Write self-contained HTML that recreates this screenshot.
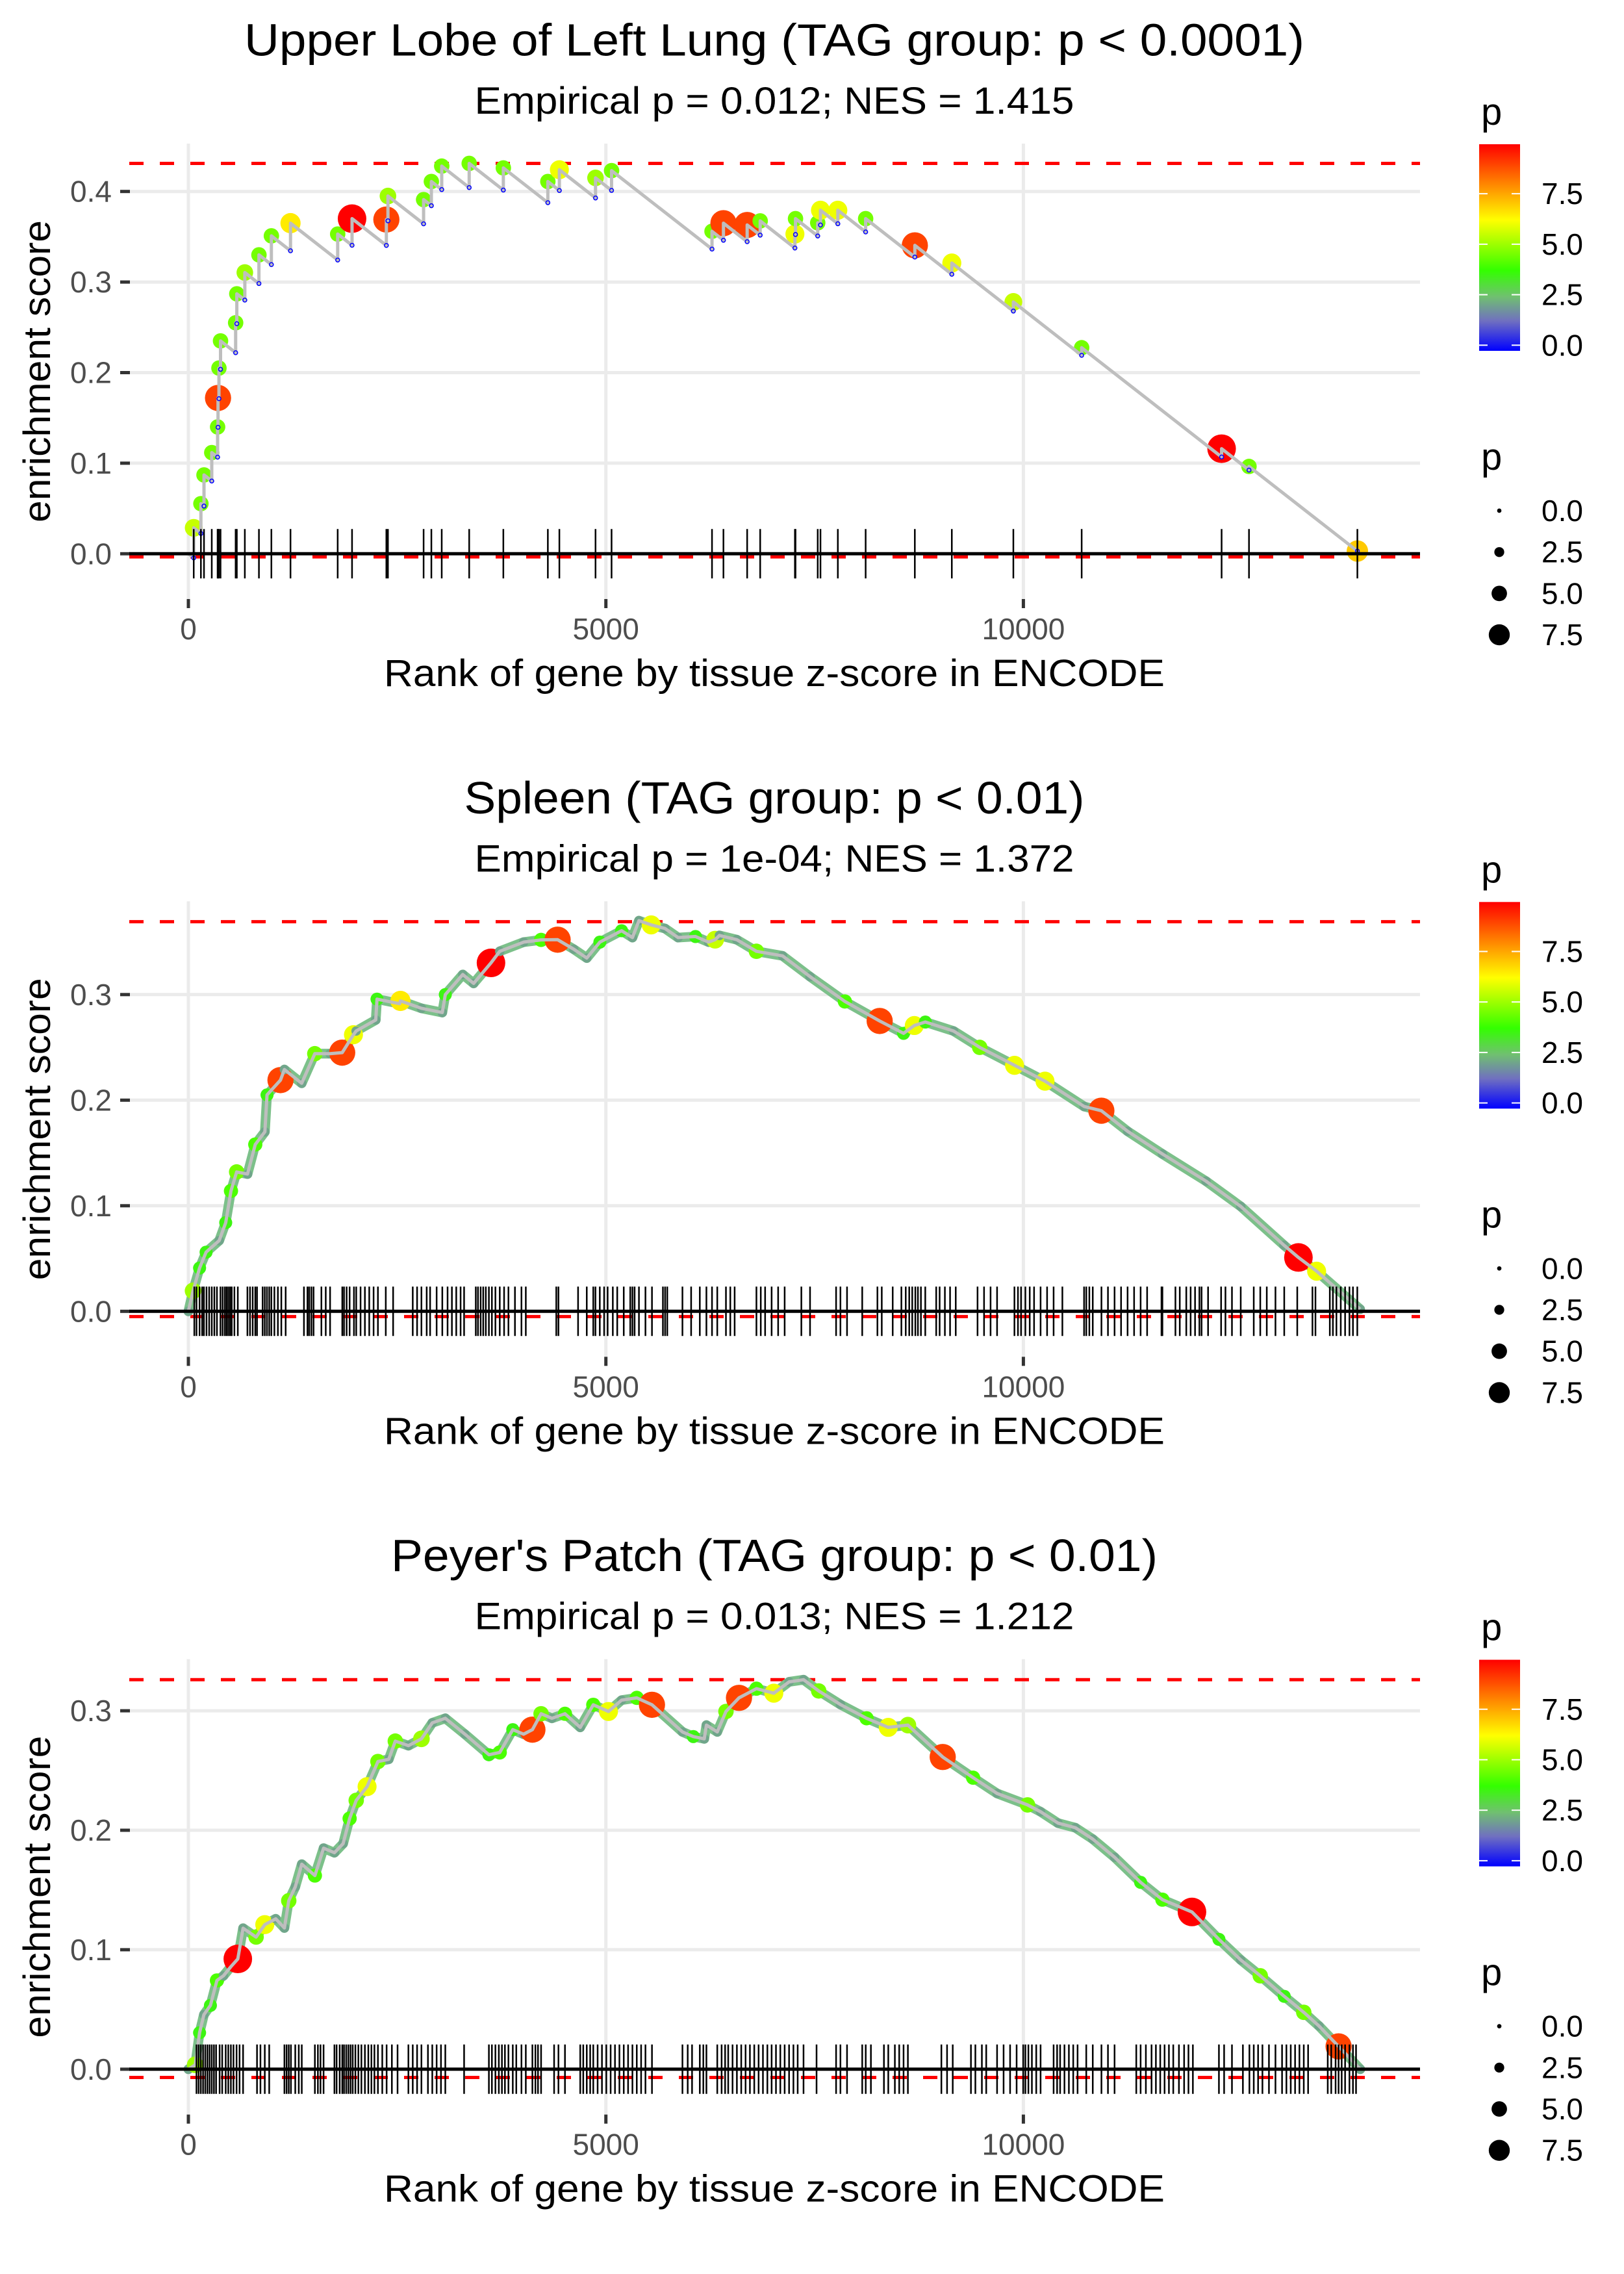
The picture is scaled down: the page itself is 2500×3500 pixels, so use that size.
<!DOCTYPE html>
<html><head><meta charset="utf-8"><title>GSEA enrichment plots</title>
<style>
html,body{margin:0;padding:0;background:#fff;}
svg{display:block;font-family:"Liberation Sans",Arial,sans-serif;}
</style></head>
<body>
<svg id="fig" width="2500" height="3500" viewBox="0 0 2500 3500" xmlns="http://www.w3.org/2000/svg">
<defs>
<linearGradient id="pgrad" x1="0" y1="1" x2="0" y2="0">
<stop offset="0" stop-color="#0000ff"/>
<stop offset="0.145" stop-color="#7070c0"/>
<stop offset="0.262" stop-color="#70c070"/>
<stop offset="0.389" stop-color="#33ff00"/>
<stop offset="0.633" stop-color="#ffff00"/>
<stop offset="1" stop-color="#ff0000"/>
</linearGradient>
</defs>
</svg>
<script>
// ---------- Panel 1: Upper Lobe of Left Lung ----------
const ranks1 = [64,150,187,280,350,355,366,385,566,580,676,845,994,1223,1788,1960,2371,2390,2817,2910,3034,3363,3772,4305,4443,4876,5068,6271,6408,6692,6848,7264,7271,7537,7570,7778,8111,8700,9143,9880,10698,12374,12702,14000];
const es1 = [.0286,.0553,.087,.1117,.140,.172,.205,.235,.255,.287,.3105,.330,.351,.365,.353,.370,.369,.395,.391,.411,.428,.431,.426,.411,.424,.415,.423,.356,.365,.363,.3675,.353,.370,.3654,.3793,.3793,.370,.3405,.321,.278,.2275,.116,.0964,.003];
const p1 = [5.5,4.5,4.5,4.5,4.5,9,4.5,4.5,4.5,4.5,5,4.5,4.5,6.5,4.5,10,9,5,4.5,4.5,4.5,4.5,4.5,4.5,6,5,4.5,4.5,9,9,4.5,6,4.5,4.5,6,6,4.5,9,6,5.5,4.5,10,4.5,7];
const rug1 = ranks1;
// ---------- Panel 2: Spleen ----------
const ranks2 = [0,56,134,212,369,447,510,578,708,801,916,942,1103,1150,1357,1514,1696,1842,1977,2009,2244,2259,2530,2540,2791,3041,3077,3286,3416,3624,3729,4016,4224,4422,4615,4771,4928,5188,5318,5396,5543,5708,5865,6073,6230,6308,6360,6568,6803,7115,7445,7862,8279,8565,8694,8826,9164,9477,9894,10259,10728,10934,11249,11666,12187,12604,13121,13294,13512,14033];
const es2 = [0,.0194,.041,.056,.067,.084,.114,.132,.130,.158,.170,.205,.219,.229,.216,.244,.244,.245,.262,.2655,.276,.2957,.2914,.294,.287,.283,.300,.319,.3106,.330,.341,.3497,.3518,.352,.343,.3346,.3497,.3605,.354,.370,.366,.3626,.354,.355,.3497,.352,.356,.352,.341,.3367,.317,.2935,.275,.2633,.2707,.274,.2655,.250,.233,.218,.194,.190,.1705,.149,.1233,.0993,.0626,.051,.038,.002];
const p2 = [2,5,3.5,3.5,2,3.5,4,4.5,2,4,2,3.5,9,2,2,4.5,2,9,6,2,2,3.5,2,6.5,2,2,3.5,2,2,10,2,2,4,9,2,2,3.5,3.5,2,2,6,2,2,3.5,2,5.5,2,2,4.5,2,2,4,9,3.5,6,3.5,2,4.5,6,6,2,9,2,2,2,2,2,10,6,2];
const rug2 = [71,97,134,165,186,217,249,280,311,342,384,410,436,457,478,499,519,551,592,707,738,770,801,822,889,915,941,968,994,1030,1072,1113,1165,1384,1426,1447,1473,1499,1593,1645,1697,1843,1864,1895,1931,1983,2010,2062,2114,2166,2218,2270,2364,2452,2687,2739,2791,2854,2895,2973,3041,3104,3156,3208,3260,3302,3442,3468,3500,3531,3562,3599,3635,3677,3729,3781,3833,3911,3989,4041,4406,4432,4667,4771,4849,4875,4927,4979,5021,5083,5136,5214,5292,5318,5344,5396,5474,5552,5683,5709,5735,5917,6021,6125,6204,6271,6334,6438,6490,6542,6803,6855,6907,6985,7063,7141,7341,7445,7757,7809,7888,8070,8252,8304,8435,8539,8591,8633,8669,8706,8737,8773,8825,8956,8997,9060,9122,9190,9451,9529,9607,9685,9893,9935,9972,10024,10076,10128,10206,10284,10362,10467,10727,10753,10790,10831,10935,11013,11092,11170,11248,11326,11404,11482,11654,11665,11821,11873,11951,12003,12056,12108,12134,12212,12368,12420,12498,12603,12759,12837,12915,13019,13124,13280,13462,13498,13670,13707,13749,13801,13853,13905,13947,13999];
// ---------- Panel 3: Peyer's Patch ----------
const ranks3 = [0,82,134,186,264,342,420,509,592,655,811,915,1046,1150,1202,1280,1358,1515,1619,1749,1853,1931,2010,2140,2270,2400,2478,2635,2791,2921,3077,3312,3599,3729,3885,4015,4120,4224,4354,4510,4693,4849,5031,5188,5370,5552,5917,6047,6178,6204,6334,6438,6594,6803,7011,7194,7367,7549,7809,8122,8382,8617,9034,9398,9685,10050,10206,10414,10623,10831,11092,11404,11665,12019,12342,12603,12837,13124,13358,13540,13775,14035];
const es3 = [0,.0037,.0305,.0457,.0534,.0743,.0782,.0858,.0923,.118,.1106,.121,.1259,.1182,.141,.1526,.1716,.1621,.185,.1812,.1888,.2098,.225,.2365,.2575,.2594,.2746,.2708,.2765,.2899,.2937,.2804,.2632,.2651,.2842,.2804,.2842,.2975,.2937,.2975,.2861,.305,.2994,.3089,.3108,.305,.2823,.2784,.2765,.288,.2823,.2994,.3108,.3185,.3147,.3242,.326,.3166,.3052,.2937,.2861,.288,.2613,.244,.2308,.2212,.2155,.206,.2021,.1926,.1774,.1564,.1419,.1316,.1087,.0915,.0782,.061,.0476,.0362,.0191,0];
const p3 = [2,5,3.5,2,3.5,4,2,2,10,2,4.5,6,2,2,4.5,2,2,4,2,2,2,4,4.5,6,4.5,2,4.5,2,5,2,2,2,3.5,4,3.5,2,9,4.5,2,4,2,4,6,2,4,9,2,3.5,2,2,2,4.5,9,4,6,2,2,4.5,2,4,6,5,9,4,2,4.5,2,2,2,2,2,3.5,4,10,3.5,2,4.5,3.5,4.5,2,9,2];
const rug3 = [97,123,149,176,202,228,254,280,306,332,374,405,447,478,509,540,577,613,655,822,863,915,968,1150,1176,1202,1228,1280,1322,1358,1515,1551,1582,1619,1749,1775,1812,1843,1864,1890,1916,1942,1968,2000,2036,2072,2114,2155,2192,2228,2270,2322,2374,2437,2505,2635,2687,2739,2791,2869,2921,2973,3025,3077,3302,3599,3635,3677,3718,3755,3791,3833,3885,3927,3989,4041,4120,4156,4187,4224,4380,4432,4510,4693,4729,4771,4812,4849,4901,4953,5005,5057,5109,5162,5214,5266,5318,5370,5422,5474,5552,5917,5980,6032,6125,6167,6204,6334,6386,6428,6465,6517,6569,6621,6673,6725,6777,6829,6881,6934,6985,7037,7089,7141,7194,7246,7297,7367,7523,7757,7809,7888,8070,8112,8174,8330,8382,8461,8513,8565,8617,9018,9086,9154,9372,9425,9503,9555,9685,9763,9841,9919,9998,10024,10060,10102,10154,10206,10362,10404,10440,10492,10545,10597,10649,10753,10831,10935,11013,11092,11352,11404,11467,11535,11587,11639,11691,11743,11795,11863,11925,11977,12030,12342,12404,12498,12629,12707,12759,12811,12863,12941,13019,13098,13150,13202,13254,13306,13358,13410,13645,13687,13739,13775,13812,13853,13905,13947,13984];

const titles = ["Upper Lobe of Left Lung (TAG group: p < 0.0001)","Spleen (TAG group: p < 0.01)","Peyer's Patch (TAG group: p < 0.01)"];
const titleWidths = [1632,955,1180];
const subtitles = ["Empirical p = 0.012; NES = 1.415","Empirical p = 1e-04; NES = 1.372","Empirical p = 0.013; NES = 1.212"];
const esMax = [0.431,0.369,0.326];
const esMin = [-0.0035,-0.005,-0.0069];
const yTicks = [[0,0.1,0.2,0.3,0.4],[0,0.1,0.2,0.3],[0,0.1,0.2,0.3]];
const xTicks = [0,5000,10000];
const legendColorTicks = [0,2.5,5,7.5];
const legendSizeTicks = [0,2.5,5,7.5];

const NS = "http://www.w3.org/2000/svg";
const svg = document.getElementById('fig');
function el(tag, attrs, parent){ const e=document.createElementNS(NS,tag); for(const k in attrs) e.setAttribute(k,attrs[k]); (parent||svg).appendChild(e); return e; }

const stops=[[0,[0,0,255]],[1.2,[112,112,192]],[2.4,[112,192,112]],[3.7,[51,255,0]],[6.2,[255,255,0]],[10,[255,0,0]]];
function pColor(p){
  p=Math.max(0,Math.min(10,p));
  for(let i=0;i<stops.length-1;i++){
    const a=stops[i],b=stops[i+1];
    if(p<=b[0]){const t=(p-a[0])/(b[0]-a[0]);const c=a[1].map((v,j)=>Math.round(v+(b[1][j]-v)*t));return `rgb(${c[0]},${c[1]},${c[2]})`;}
  }
  return 'rgb(255,0,0)';
}
function pRadius(p){ return 3.6+1.84*p; }

const PANEL_STEP = 1166.3;
const X0 = 290, XS = 0.12854;
const L = 199, R = 2186;
const Y0base = [852.3, 2018.3, 3184.8];
const YS = [1394, 1625, 1839];
const allRanks=[ranks1,ranks2,ranks3], allEs=[es1,es2,es3], allP=[p1,p2,p3], allRug=[rug1,rug2,rug3];

for(let k=0;k<3;k++){
  const off = k*PANEL_STEP;
  const y0 = Y0base[k], ys = YS[k];
  const xScale = r => X0 + r*XS;
  const yScale = v => y0 - v*ys;
  const top = 221+off, bot = 922+off;
  const g = el('g',{});
  
  

  const t = el('text',{x:1192,y:85.6+off,'text-anchor':'middle','font-size':70,fill:'#000',textLength:titleWidths[k],lengthAdjust:'spacingAndGlyphs'},g);
  t.textContent = titles[k];
  
  
  const st = el('text',{x:1192,y:175+off,'text-anchor':'middle','font-size':58,fill:'#000',textLength:923,lengthAdjust:'spacingAndGlyphs'},g);
  st.textContent = subtitles[k];
  
  

  yTicks[k].forEach(v=>{
    const gl=el('line',{x1:L,x2:R,y1:yScale(v),y2:yScale(v),stroke:'#ebebeb','stroke-width':5},g);
    
    
  });
  xTicks.forEach(r=>{
    const gl=el('line',{x1:xScale(r),x2:xScale(r),y1:top,y2:bot,stroke:'#ebebeb','stroke-width':5},g);
    
    
  });
  yTicks[k].forEach(v=>{
    const tm=el('line',{x1:185,x2:200,y1:yScale(v),y2:yScale(v),stroke:'#333','stroke-width':5},g);
    
    
    const tl=el('text',{x:172,y:yScale(v)+16,'text-anchor':'end','font-size':46,fill:'#4d4d4d'},g);
    tl.textContent=v.toFixed(1);
    
    
  });
  xTicks.forEach(r=>{
    const tm=el('line',{x1:xScale(r),x2:xScale(r),y1:bot,y2:bot+14,stroke:'#333','stroke-width':5},g);
    
    
    const tl=el('text',{x:xScale(r),y:984+off,'text-anchor':'middle','font-size':46,fill:'#4d4d4d'},g);
    tl.textContent=String(r);
    
    
  });
  const xt=el('text',{x:1192,y:1056+off,'text-anchor':'middle','font-size':58,fill:'#000',textLength:1202,lengthAdjust:'spacingAndGlyphs'},g);
  xt.textContent='Rank of gene by tissue z-score in ENCODE';
  
  
  const cy=(top+bot)/2;
  const yt=el('text',{x:77,y:cy,'text-anchor':'middle','font-size':58,fill:'#000',transform:`rotate(-90 77 ${cy})`,textLength:465,lengthAdjust:'spacingAndGlyphs'},g);
  yt.textContent='enrichment score';
  
  

  [esMax[k],esMin[k]].forEach((v,i)=>{
    const dl=el('line',{x1:L,x2:R,y1:yScale(v),y2:yScale(v),stroke:'#ff0000','stroke-width':5,'stroke-dasharray':'22 25'},g);
    
    
  });

  const rk=allRanks[k], es=allEs[k], pp=allP[k];
  let pts=[], lows=[];
  if(k===0){
    const slope=7.2e-5;
    pts.push([xScale(0),yScale(0)]);
    let prevR=0, prevE=0;
    for(let i=0;i<rk.length;i++){
      let pre=prevE - slope*(rk[i]-prevR);
      if(pre>es[i]) pre=es[i];
      pts.push([xScale(rk[i]),yScale(pre)]);
      lows.push([xScale(rk[i]),yScale(pre)]);
      pts.push([xScale(rk[i]),yScale(es[i])]);
      prevR=rk[i]; prevE=es[i];
    }
  } else {
    for(let i=0;i<rk.length;i++){ pts.push([xScale(rk[i]),yScale(es[i])]); }
    const bl=el('polyline',{points:pts.map(q=>q[0]+','+(q[1]+5)).join(' '),fill:'none',stroke:'#3030ff','stroke-width':2.5,'stroke-linejoin':'round'},g);
    
    
    const band=el('polyline',{points:pts.map(q=>q.join(',')).join(' '),fill:'none',stroke:'#7cc08a','stroke-width':15,'stroke-linejoin':'round','stroke-linecap':'round'},g);
    
    
  }
  for(let i=0;i<rk.length;i++){
    const c=el('circle',{cx:xScale(rk[i]),cy:yScale(es[i]),r:pRadius(pp[i]),fill:pColor(pp[i])},g);
    
    
  }
  const pl=el('polyline',{points:pts.map(q=>q.join(',')).join(' '),fill:'none',stroke:'#bebebe','stroke-width':5,'stroke-linejoin':'round'},g);
  
  
  lows.forEach(q=>{
    const c=el('circle',{cx:q[0],cy:q[1],r:3,fill:'none',stroke:'#0000ff','stroke-width':1.5},g);
    
    
  });
  const zl=el('line',{x1:L,x2:R,y1:yScale(0),y2:yScale(0),stroke:'#000','stroke-width':5},g);
  
  
  allRug[k].forEach(r=>{
    const rl=el('line',{x1:xScale(r),x2:xScale(r),y1:yScale(0)-38,y2:yScale(0)+38,stroke:'#000','stroke-width':2.5},g);
    
    
  });

  const lg=el('g',{},g);
  
  
  const lt=el('text',{x:2280,y:192+off,'font-size':58,fill:'#000'},lg);
  lt.textContent='p';
  
  
  const cbTop=222+off, cbBot=540+off, pTop=9.95, pBot=-0.28;
  const cb=el('rect',{x:2277,y:cbTop,width:63,height:cbBot-cbTop,fill:'url(#pgrad)'},lg);
  
  
  const cbY=v=>cbBot-(v-pBot)/(pTop-pBot)*(cbBot-cbTop);
  legendColorTicks.forEach(v=>{
    const y=cbY(v);
    el('line',{x1:2277,x2:2290,y1:y,y2:y,stroke:'#fff','stroke-width':2},lg);
    el('line',{x1:2327,x2:2340,y1:y,y2:y,stroke:'#fff','stroke-width':2},lg);
    const tl=el('text',{x:2373,y:y+16,'font-size':46,fill:'#000'},lg);
    tl.textContent=v.toFixed(1);
    
    
  });
  const sg=el('g',{},g);
  
  
  const sgt=el('text',{x:2280,y:723+off,'font-size':58,fill:'#000'},sg);
  sgt.textContent='p';
  
  
  legendSizeTicks.forEach((v,i)=>{
    const y=786+off+i*63.7;
    const d=el('circle',{cx:2308,cy:y,r:pRadius(v)*0.93,fill:'#000'},sg);
    
    
    const tl=el('text',{x:2373,y:y+16,'font-size':46,fill:'#000'},sg);
    tl.textContent=v.toFixed(1);
    
    
  });
}
</script>
</body></html>
